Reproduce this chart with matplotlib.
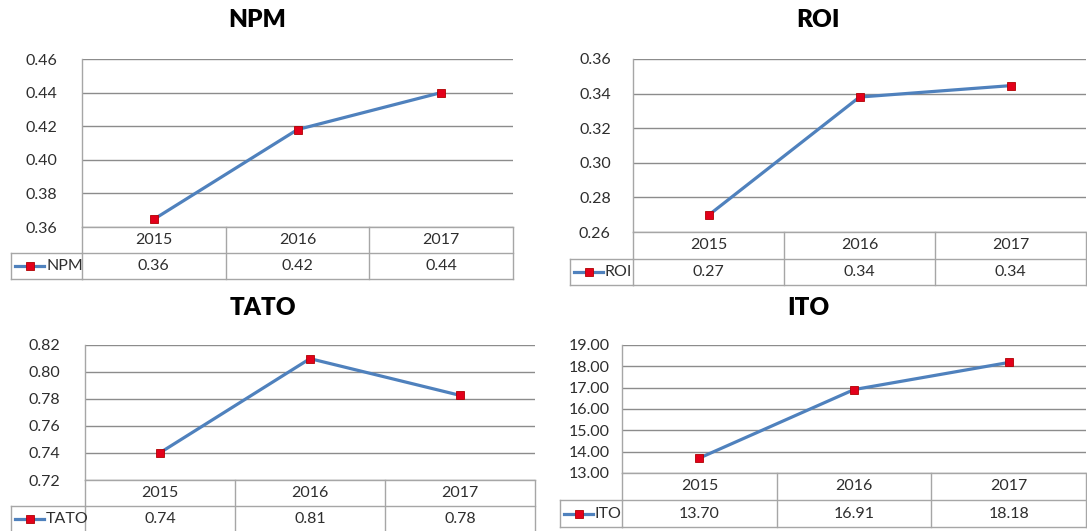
import matplotlib
matplotlib.use("Agg")
import matplotlib.pyplot as plt
import numpy as np
from matplotlib.transforms import blended_transform_factory
from matplotlib.lines import Line2D

plt.rcParams['font.family'] = ['Lato', 'DejaVu Sans']

# ---------------- data ----------------
years = ['2015', '2016', '2017']
npm = [0.3646, 0.4180, 0.4400]
roi = [0.2697, 0.3380, 0.3446]
tato = [0.7402, 0.8099, 0.7827]
ito = [13.70, 16.91, 18.18]

npm_ticks = [0.36, 0.38, 0.40, 0.42, 0.44, 0.46]
roi_ticks = [0.26, 0.28, 0.30, 0.32, 0.34, 0.36]
tato_ticks = [0.72, 0.74, 0.76, 0.78, 0.80, 0.82]
ito_ticks = [13.0, 14.0, 15.0, 16.0, 17.0, 18.0, 19.0]

# ---------------- style ----------------
W, H = 1087, 531
LINE = '#4F81BD'
RED = '#E3001B'
GRID = '#8C8C8C'
BORDER = '#A6A6A6'
TXT = '#2E2E2E'
FS = 11.5
MS = 5.4

fig = plt.figure(figsize=(W / 100, H / 100), dpi=100)
fig.patch.set_facecolor('white')


def fx(px):
    return px / W


def fy(py):
    return 1 - py / H


def panel(name, vals, ticks, fmt, left, right, top, bottom, row_h, lab_left,
          title_xy, pad):
    ax = fig.add_axes([fx(left), fy(bottom), (right - left) / W, (bottom - top) / H])
    x = np.arange(len(years))
    ax.plot(x, vals, color=LINE, lw=2.3, marker='s', ms=MS,
            mfc=RED, mec='#B00000', mew=0.6, zorder=5, clip_on=False)
    ax.set_xlim(-0.5, len(years) - 0.5)
    ax.set_ylim(ticks[0], ticks[-1])
    ax.set_yticks(ticks)
    ax.set_yticklabels([fmt.format(t) for t in ticks])
    ax.set_xticks([])
    ax.grid(axis='y', color=GRID, lw=1.0)
    for s in ['top', 'right', 'bottom']:
        ax.spines[s].set_visible(False)
    ax.spines['left'].set_color(BORDER)
    ax.spines['left'].set_linewidth(1.0)
    ax.tick_params(axis='y', length=0, pad=pad, labelsize=FS, labelcolor=TXT)

    # table
    ph = bottom - top
    h = row_h / ph
    tr = blended_transform_factory(ax.transData, ax.transAxes)
    lw = 1.0
    for yy in [0, -h, -2 * h]:
        ax.add_line(Line2D([-0.5, len(years) - 0.5], [yy, yy], transform=tr,
                           color=BORDER, lw=lw, clip_on=False))
    for xx in np.arange(len(years) + 1) - 0.5:
        ax.add_line(Line2D([xx, xx], [0, -2 * h], transform=tr,
                           color=BORDER, lw=lw, clip_on=False))
    for i, (yr, v) in enumerate(zip(years, vals)):
        ax.text(i, -h / 2, yr, transform=tr, ha='center', va='center',
                fontsize=FS, color=TXT)
        ax.text(i, -1.5 * h, '{:.2f}'.format(v), transform=tr, ha='center',
                va='center', fontsize=FS, color=TXT)
    # label cell (legend row header)
    y1 = bottom + row_h
    y2 = bottom + 2 * row_h
    for (xa, xb, ya, yb) in [(lab_left, left, y1, y1), (lab_left, left, y2, y2),
                             (lab_left, lab_left, y1, y2)]:
        fig.add_artist(Line2D([fx(xa), fx(xb)], [fy(ya), fy(yb)],
                              transform=fig.transFigure, color=BORDER, lw=lw))
    ym = (y1 + y2) / 2
    fig.add_artist(Line2D([fx(lab_left + 4), fx(lab_left + 33)], [fy(ym), fy(ym)],
                          transform=fig.transFigure, color=LINE, lw=2.3))
    fig.add_artist(Line2D([fx(lab_left + 18.5)], [fy(ym)], transform=fig.transFigure,
                          marker='s', ms=MS, mfc=RED, mec='#B00000', mew=0.6,
                          linestyle='none'))
    fig.text(fx(lab_left + 35), fy(ym), name, ha='left', va='center',
             fontsize=FS, color=TXT)
    fig.text(fx(title_xy[0]), fy(title_xy[1]), name, ha='center', va='center',
             fontsize=17.5, fontweight='heavy', color='black')
    return ax


panel('NPM', npm, npm_ticks, '{:.2f}', 82, 513, 59, 227, 26, 11, (257, 20), 18)
panel('ROI', roi, roi_ticks, '{:.2f}', 633, 1086, 59, 232, 26.5, 570, (818, 20), 16)
panel('TATO', tato, tato_ticks, '{:.2f}', 85, 535, 345, 480, 26, 11, (263, 308), 18)
panel('ITO', ito, ito_ticks, '{:.2f}', 622, 1086, 345, 473, 27, 560, (808, 308), 9)

fig.savefig('out.png', dpi=100, facecolor='white')
